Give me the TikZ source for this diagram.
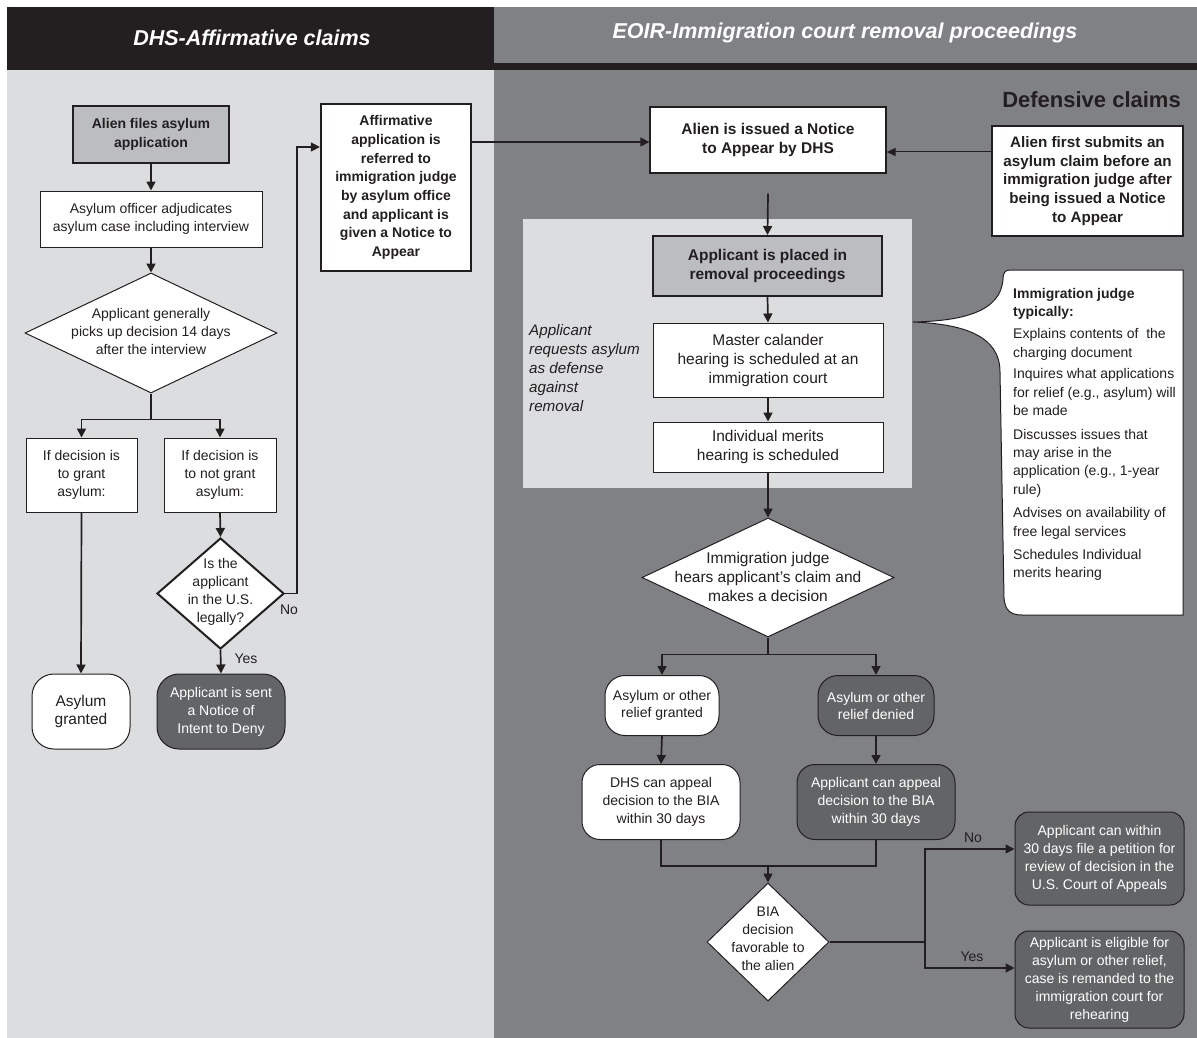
\documentclass[tikz,border=0pt]{standalone}
\usepackage{fontspec}
\setmainfont{Liberation Sans}
\usetikzlibrary{arrows.meta,shapes.geometric,calc}
\definecolor{hdrblack}{HTML}{231F20}
\definecolor{bgdark}{HTML}{808185}
\definecolor{bglight}{HTML}{DCDDDF}
\definecolor{boxgrey}{HTML}{BCBDC0}
\definecolor{nodedark}{HTML}{636466}
\definecolor{ink}{HTML}{231F20}
\newcommand\myfs[2]{\fontsize{#1}{#2}\selectfont}
\begin{document}
\begin{tikzpicture}[x=1pt,y=-1pt,
  box/.style={draw=ink, line width=1pt, fill=white, align=center, inner sep=0pt, text=ink},
  thickbox/.style={box, line width=2pt, fill=boxgrey},
  rbox/.style={box, rounded corners=#1},
  rbox/.default=18pt,
  dbox/.style={box, rounded corners=#1, fill=nodedark, text=white},
  dbox/.default=18pt,
  dia/.style={diamond, draw=ink, line width=1pt, fill=white, inner sep=0pt},
  txt/.style={align=center, text=ink, inner sep=0pt},
  lbl/.style={text=ink, inner sep=0pt, font=\myfs{14}{17}},
  conn/.style={draw=ink, line width=1.7pt},
  arr/.style={draw=ink, line width=1.7pt, -{Triangle[length=9pt,width=9pt]}},
  thinarr/.style={draw=ink, line width=1pt, -{Triangle[length=9pt,width=8pt]}},
  sm/.style={font=\myfs{14}{18}},
  smb/.style={font=\myfs{14}{18.7}\bfseries},
  md/.style={font=\myfs{15.5}{19}},
  mdb/.style={font=\myfs{15.5}{18.5}\bfseries}
]
\useasboundingbox (0,0) rectangle (1197,1038);
% backgrounds
\fill[white] (0,0) rectangle (1197,1038);
\fill[bglight] (7,70) rectangle (494,1038);
\fill[bgdark] (494,70) rectangle (1197,1038);
\fill[hdrblack] (7,7) rectangle (494,70);
\fill[bgdark] (494,7) rectangle (1197,63);
\fill[hdrblack] (494,63) rectangle (1197,70);
\node[inner sep=0pt, text=white, font=\myfs{21.5}{24}\bfseries\itshape] (hdrleft) at (252,38) {DHS-Affirmative claims};
\node[inner sep=0pt, text=white, font=\myfs{21.5}{24}\bfseries\itshape] (hdrright) at (845,33) {EOIR-Immigration court removal proceedings};
\node[inner sep=0pt, text=ink, anchor=east, font=\myfs{22}{24}\bfseries] (defclaims) at (1181,100) {Defensive claims};

% inner panel
\fill[bglight] (523,219) rectangle (912,488);

% callout
\filldraw[fill=white, draw=ink, line width=1pt] (1183,270) -- (1010,270)
  .. controls (1005,270) and (1003,273) .. (1003,279)
  .. controls (1001,312) and (962,321) .. (913,322)
  .. controls (962,324) and (1000,335) .. (1000,372)
  -- (1004,598) .. controls (1005,610) and (1010,615) .. (1022,615)
  -- (1183,615) -- cycle;
\node[txt, anchor=north west, align=left, font=\myfs{14}{18.4}] (calltext) at (1013,288)
{\textbf{Immigration judge}\\\textbf{typically:}\\[3.5pt]
Explains contents of\ \ the\\charging document\\[3.5pt]
Inquires what applications\\for relief (e.g., asylum) will\\be made\\[5pt]
Discusses issues that\\may arise in the\\application (e.g., 1-year\\rule)\\[5pt]
Advises on availability of\\free legal services\\[5pt]
Schedules Individual\\merits hearing};

% ---------- left column
\node[thickbox, smb, minimum width=156, minimum height=57] (alienfiles) at (151,134.5) {Alien files asylum\\application};
\node[box, sm, minimum width=222, minimum height=56] (officer) at (151,219) {Asylum officer adjudicates\\asylum case including interview};
\node[dia, minimum width=252, minimum height=120] (d1) at (151,333) {};
\node[txt, sm] (d1t) at (151,331) {Applicant generally\\picks up decision 14 days\\after the interview};
\node[box, sm, minimum width=111, minimum height=74] (grant) at (81.5,475) {If decision is\\to grant\\asylum:};
\node[box, sm, minimum width=112, minimum height=74] (notgrant) at (220,475) {If decision is\\to not grant\\asylum:};
\node[rbox=22pt, font=\myfs{15.5}{18}, minimum width=98, minimum height=75] (granted) at (81,711.5) {Asylum\\granted};
\node[dia, line width=2pt, minimum width=127, minimum height=111] (d2) at (220.5,593.5) {};
\node[txt, sm] (d2t) at (220.5,592) {Is the\\applicant\\in the U.S.\\legally?};
\node[dbox=22pt, sm, minimum width=128, minimum height=75] (deny) at (221,711.5) {Applicant is sent\\a Notice of\\Intent to Deny};
\node[box, line width=2.2pt, smb, minimum width=150, minimum height=167] (aff) at (396,187.5)
{Affirmative\\application is\\referred to\\immigration judge\\by asylum office\\and applicant is\\given a Notice to\\Appear};

\draw[arr] (alienfiles.south) -- (officer.north);
\draw[arr] (officer.south) -- (d1.north);
\draw[conn] (d1.south) -- ++(0,26) coordinate (s1);
\draw[arr] (s1) -| (grant.north);
\draw[arr] (s1) -| (notgrant.north);
\draw[arr] (grant.south) -- (granted.north);
\draw[arr] (notgrant.south) -- (d2.north);
\draw[arr] (d2.south) -- (deny.north);
\coordinate (nobend) at (d2.east -| 297,0);
\draw[arr, line width=1.2pt] (d2.east) -- (nobend) |- (aff.west |- 0,147);
\node[lbl] (yes1) at (246,659) {Yes};
\node[lbl] (no1) at (289,610) {No};

% ---------- right column
\node[box, line width=1.3pt, mdb, minimum width=236, minimum height=66] (alien2) at (768,140) {Alien is issued a Notice\\to Appear by DHS};
\node[box, line width=1.3pt, font=\myfs{15.2}{18.7}\bfseries, minimum width=191, minimum height=110] (first) at (1087.5,181)
{Alien first submits an\\asylum claim before an\\immigration judge after\\being issued a Notice\\to Appear};
\node[thickbox, mdb, minimum width=229, minimum height=60] (placed) at (767.5,266) {Applicant is placed in\\removal proceedings};
\node[box, md, minimum width=230, minimum height=74] (master) at (768,360) {Master calander\\hearing is scheduled at an\\immigration court};
\node[box, md, minimum width=230, minimum height=50] (indiv) at (768,447) {Individual merits\\hearing is scheduled};
\node[txt, anchor=west, align=left, font=\myfs{15.2}{18.8}\itshape] (note) at (529,368) {Applicant\\requests asylum\\as defense\\against\\removal};
\node[dia, minimum width=252, minimum height=119] (d3) at (768,577.5) {};
\node[txt, md] (d3t) at (768,577) {Immigration judge\\hears applicant’s claim and\\makes a decision};
\node[rbox=20pt, font=\myfs{14}{17}, minimum width=114, minimum height=60] (granted2) at (662,705.5) {Asylum or other\\relief granted};
\node[dbox=20pt, font=\myfs{14}{17}, minimum width=116, minimum height=60] (denied) at (876,705.5) {Asylum or other\\relief denied};
\node[rbox=18pt, sm, minimum width=158, minimum height=75] (dhsap) at (661,802) {DHS can appeal\\decision to the BIA\\within 30 days};
\node[dbox=18pt, sm, minimum width=158, minimum height=75] (apap) at (876,802) {Applicant can appeal\\decision to the BIA\\within 30 days};
\node[dia, minimum width=122, minimum height=118] (bia) at (768,942) {};
\node[txt, sm] (biat) at (768,939) {BIA\\decision\\favorable to\\the alien};
\node[dbox=14pt, sm, minimum width=169, minimum height=93] (court) at (1099.5,858.5) {Applicant can within\\30 days file a petition for\\review of decision in the\\U.S. Court of Appeals};
\node[dbox=14pt, sm, minimum width=169, minimum height=97] (elig) at (1099.5,979.5) {Applicant is eligible for\\asylum or other relief,\\case is remanded to the\\immigration court for\\rehearing};

\draw[arr, line width=1.4pt] (aff.east |- 0,142) -- (alien2.west |- 0,142);
\coordinate (a2in) at ([yshift=-12pt]alien2.east);
\draw[thinarr] (first.west |- a2in) -- (a2in);
\draw[arr] ([yshift=-20pt]alien2.south) -- (placed.north);
\draw[arr] (placed.south) -- (master.north);
\draw[arr] (master.south) -- (indiv.north);
\draw[arr] (indiv.south) -- (d3.north);
\draw[conn] (d3.south) -- ++(0,17) coordinate (s3);
\draw[arr] (s3) -| (granted2.north);
\draw[arr] (s3) -| (denied.north);
\draw[arr] (granted2.south) -- (dhsap.north);
\draw[arr] (denied.south) -- (apap.north);
\coordinate (merge) at (bia.north |- 0,866);
\draw[conn] (dhsap.south) -- (dhsap.south |- merge) -- (apap.south |- merge) -- (apap.south);
\draw[arr] (merge) -- (bia.north);
\coordinate (bj) at (bia.east -| 925,0);
\draw[conn] (bia.east) -- (bj);
\draw[arr] (bj) |- (court.west |- 0,849);
\draw[arr] (bj) |- (elig.west |- 0,968);
\node[lbl] (no2) at (973,838) {No};
\node[lbl] (yes2) at (972,957) {Yes};
\end{tikzpicture}
\end{document}
